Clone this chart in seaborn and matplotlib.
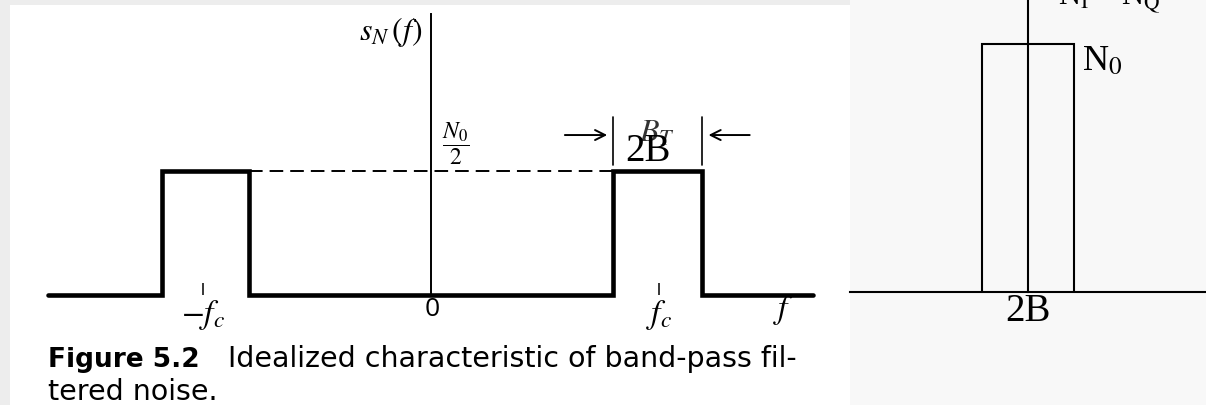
import matplotlib
matplotlib.use('Agg')
import matplotlib.pyplot as plt
import seaborn as sns
import pandas as pd
from matplotlib.patches import Rectangle

# ---------------- data ----------------
# band-pass filtered noise PSD (fc = 1, level N0/2 = 1)
bp_freq = [-1.68, -1.18, -1.18, -0.80, -0.80, 0.80, 0.80, 1.19, 1.19, 1.675]
bp_psd = [0, 0, 1, 1, 0, 0, 1, 1, 0, 0]
ref_freq = [-0.80, 0.80]
ref_level = [1, 1]
fc_ticks = [-1, 1]
fc_labels = ['$-f_c$', '$f_c$']
# equivalent low-pass (in-phase / quadrature) PSD (B = 1, level N0 = 1)
lp_freq = [-1, -1, 1, 1]
lp_psd = [0, 1, 1, 0]

W, H = 1206, 405
sns.set_style('white')
plt.rcParams['mathtext.fontset'] = 'stix'
plt.rcParams['font.family'] = ['DejaVu Sans']
plt.rcParams['text.color'] = 'black'

fig = plt.figure(figsize=(W / 100, H / 100), dpi=100)
fig.patch.set_facecolor('#ededed')
fig.add_artist(Rectangle((10 / W, 0), 840 / W, 1 - 5 / H, transform=fig.transFigure,
                         facecolor='white', edgecolor='none', zorder=-5))
fig.add_artist(Rectangle((850 / W, 0), 356 / W, 1, transform=fig.transFigure,
                         facecolor='#f8f8f8', edgecolor='none', zorder=-5))

# ---------------- left: band-pass spectrum ----------------
ax = fig.add_axes([0, 0, 850 / W, 1])
ax.set_facecolor('none')
ax.set_xlim(-431 / 228, (850 - 431) / 228)
ax.set_ylim((295 - 405) / 124, 295 / 124)
df_bp = pd.DataFrame({'f': bp_freq, 'S': bp_psd})
sns.lineplot(data=df_bp, x='f', y='S', sort=False, estimator=None, ax=ax,
             color='black', lw=3.3, solid_joinstyle='miter')
df_ref = pd.DataFrame({'f': ref_freq, 'S': ref_level})
sns.lineplot(data=df_ref, x='f', y='S', sort=False, estimator=None, ax=ax,
             color='black', lw=1.4)
ax.lines[-1].set_dashes([7, 3.6])
for s in ['top', 'right']:
    ax.spines[s].set_visible(False)
ax.spines['bottom'].set_position(('data', 0))
ax.spines['bottom'].set_visible(False)
ax.spines['left'].set_position(('data', 0))
ax.spines['left'].set_bounds(0, 2.27)
ax.spines['left'].set_linewidth(1.4)
ax.spines['left'].set_color('black')
ax.set_yticks([])
ax.set_xticks(fc_ticks)
ax.set_xticklabels([])
ax.tick_params(axis='x', direction='in', length=9, width=1.1, color='black', bottom=True)
ax.set_xlabel('')
ax.set_ylabel('')

# bandwidth arrows
arr = dict(arrowstyle='->', lw=1.4, color='black', mutation_scale=18)
ax.annotate('', xy=(0.785, 1.29), xytext=(0.575, 1.29), arrowprops=arr)
ax.annotate('', xy=(1.205, 1.29), xytext=(1.41, 1.29), arrowprops=arr)
ax.plot([0.80, 0.80], [1.05, 1.435], color='black', lw=1.2)
ax.plot([1.19, 1.19], [1.05, 1.435], color='black', lw=1.2)

ax.text(-0.04, 2.12, '$s_N\\,(f)$', ha='right', va='center', fontsize=23)
ax.text(0.11, 1.22, '$\\dfrac{N_0}{2}$', ha='center', va='center', fontsize=17)
ax.text(0.99, 1.30, '$B_T$', ha='center', va='center', fontsize=23, color='#333333')
ax.text(0.952, 1.16, '2B', ha='center', va='center', fontsize=28,
        family='Liberation Serif')
for x, lab in zip(fc_ticks, fc_labels):
    ax.text(x, -0.165, lab, ha='center', va='center', fontsize=24)
ax.text(0.004, -0.12, '0', ha='center', va='center', fontsize=19, family='Open Sans')
ax.text(1.544, -0.12, '$f$', ha='center', va='center', fontsize=24)

fig.text(48 / W, 1 - 367 / H, 'Figure 5.2', ha='left', va='baseline', fontsize=19,
         weight='bold', family='DejaVu Sans')
fig.text(228 / W, 1 - 367 / H, 'Idealized characteristic of band-pass fil-', ha='left',
         va='baseline', fontsize=20.5, family='DejaVu Sans')
fig.text(48 / W, 1 - 400 / H, 'tered noise.', ha='left', va='baseline', fontsize=20.5,
         family='DejaVu Sans')

# ---------------- right: low-pass equivalent ----------------
ax2 = fig.add_axes([850 / W, 0, 356 / W, 1])
ax2.set_facecolor('none')
ax2.set_xlim((850 - 1028) / 46, (1206 - 1028) / 46)
ax2.set_ylim((292 - 405) / 248, 292 / 248)
df_lp = pd.DataFrame({'f': lp_freq, 'S': lp_psd})
sns.lineplot(data=df_lp, x='f', y='S', sort=False, estimator=None, ax=ax2,
             color='black', lw=1.5, solid_joinstyle='miter')
for s in ['top', 'right']:
    ax2.spines[s].set_visible(False)
ax2.spines['bottom'].set_position(('data', 0))
ax2.spines['left'].set_position(('data', 0))
ax2.spines['left'].set_bounds(0, 2)
for s in ['bottom', 'left']:
    ax2.spines[s].set_linewidth(1.5)
    ax2.spines[s].set_color('black')
ax2.set_xticks([])
ax2.set_yticks([])
ax2.set_xlabel('')
ax2.set_ylabel('')
ax2.text(1.17, 0.93, 'N$_{0}$', ha='left', va='center', fontsize=26,
         family='Liberation Serif')
ax2.text(0, -0.08, '2B', ha='center', va='center', fontsize=28, family='Liberation Serif')
ax2.text(0.65, 1.155, 'N$_{\\rm I}$ = N$_{\\rm Q}$', ha='left', va='baseline', fontsize=22,
         family='Liberation Serif')

fig.savefig('out.png', dpi=100)
